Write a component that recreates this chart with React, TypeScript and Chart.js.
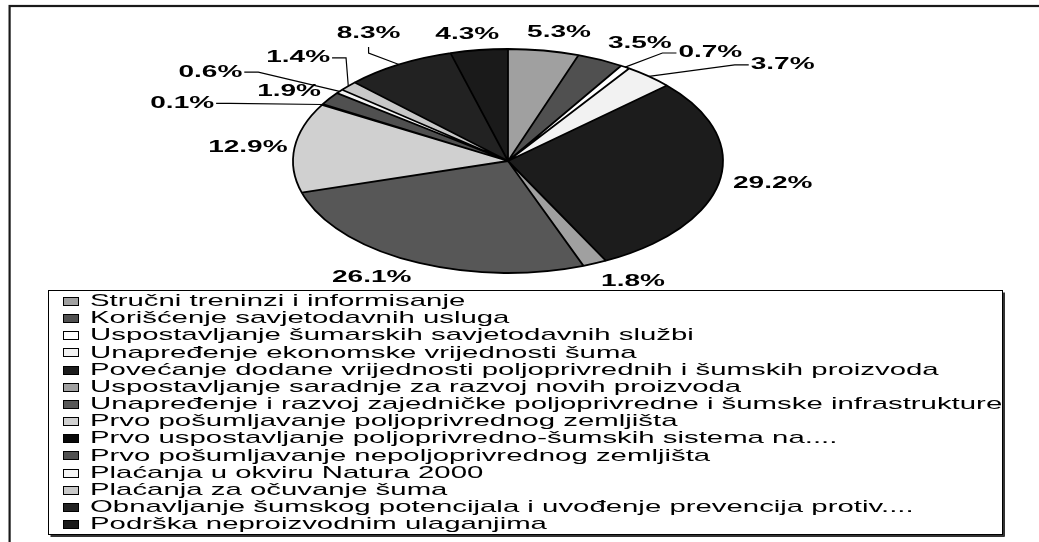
import React, { useEffect, useRef } from "react";
import { Chart, registerables } from "chart.js";

Chart.register(...registerables);

const categories = [
  "Stručni treninzi i informisanje",
  "Korišćenje savjetodavnih usluga",
  "Uspostavljanje šumarskih savjetodavnih službi",
  "Unapređenje ekonomske vrijednosti šuma",
  "Povećanje dodane vrijednosti poljoprivrednih i šumskih proizvoda",
  "Uspostavljanje saradnje za razvoj novih proizvoda",
  "Unapređenje i razvoj zajedničke poljoprivredne i šumske infrastrukture",
  "Prvo pošumljavanje poljoprivrednog zemljišta",
  "Prvo uspostavljanje poljoprivredno-šumskih sistema na....",
  "Prvo pošumljavanje nepoljoprivrednog zemljišta",
  "Plaćanja u okviru Natura 2000",
  "Plaćanja za očuvanje šuma",
  "Obnavljanje šumskog potencijala i uvođenje prevencija protiv....",
  "Podrška neproizvodnim ulaganjima",
];

const shares = [5.3, 3.5, 0.7, 3.7, 29.2, 1.8, 26.1, 12.9, 0.1, 1.9, 0.6, 1.4, 8.3, 4.3];

const sliceColors = [
  "#a0a0a0",
  "#505050",
  "#ffffff",
  "#f2f2f2",
  "#1c1c1c",
  "#a0a0a0",
  "#575757",
  "#d0d0d0",
  "#080808",
  "#505050",
  "#f4f4f4",
  "#c8c8c8",
  "#222222",
  "#1a1a1a",
];

// label layout (offsets from default outside position), leader attachment side
const labelNudges: [number, number][] = [
  [7, 0], [18, 0], [58, 1], [101, 2], [4, -1], [18, 2], [-18, 0],
  [3, 2], [-97, 8], [1, 3], [-90, -8], [-13, -16], [-5, -15], [-5, 2],
];
const leaderSides: (string | null)[] = [
  null, null, "left", "left", null, null, null,
  null, "right", null, "right", "right", "bottom", null,
];

const W = 1039;
const H = 542;
const PIE_CX = 508;
const PIE_CY = 161;
const PIE_RX = 215;
const PIE_RY = 112;
const LABEL_STRETCH = 1.75;
const LEGEND_STRETCH = 1.727;
const LABEL_GAP_X = 50;
const LABEL_GAP_Y = 18;
const LABEL_FONT = "bold 16px 'Liberation Sans', Arial, sans-serif";
const LEGEND_FONT = "17px 'Liberation Sans', Arial, sans-serif";
const LEGEND_BOX = { x: 48.5, y: 290.5, w: 954, h: 244 };
const LEGEND_ROW0 = 301.5;
const LEGEND_PITCH = 17.15;

function drawStretched(ctx: CanvasRenderingContext2D, text: string, x: number, y: number, s: number) {
  ctx.save();
  ctx.translate(x, y);
  ctx.scale(s, 1);
  ctx.fillText(text, 0, 0);
  ctx.restore();
}

const ellipsePie = {
  id: "ellipsePie",
  beforeDatasetsDraw(chart: any) {
    const arc = chart.getDatasetMeta(0).data[0];
    const p = arc.getProps(["x", "y", "outerRadius"], true);
    const ctx = chart.ctx as CanvasRenderingContext2D;
    ctx.save();
    ctx.translate(PIE_CX, PIE_CY);
    ctx.scale(PIE_RX / p.outerRadius, PIE_RY / p.outerRadius);
    ctx.translate(-p.x, -p.y);
  },
  afterDatasetsDraw(chart: any) {
    const ctx = chart.ctx as CanvasRenderingContext2D;
    const arcs = chart.getDatasetMeta(0).data;
    ctx.beginPath();
    arcs.forEach((a: any) => {
      const p = a.getProps(["x", "y", "startAngle", "endAngle", "outerRadius"], true);
      ctx.moveTo(p.x, p.y);
      ctx.arc(p.x, p.y, p.outerRadius, p.startAngle, p.endAngle);
      ctx.closePath();
    });
    ctx.restore();
    ctx.save();
    ctx.lineWidth = 1.8;
    ctx.strokeStyle = "#000";
    ctx.lineJoin = "round";
    ctx.stroke();
    ctx.restore();
  },
  afterDraw(chart: any) {
    const ctx = chart.ctx as CanvasRenderingContext2D;
    const arcs = chart.getDatasetMeta(0).data;
    const values: number[] = chart.data.datasets[0].data;
    const colors: string[] = chart.data.datasets[0].backgroundColor;
    const labels: string[] = chart.data.labels;

    // outer frame
    ctx.save();
    ctx.strokeStyle = "#1a1a1a";
    ctx.lineWidth = 2.2;
    ctx.strokeRect(9.6, 6, W + 20, H + 20);
    ctx.restore();

    // percentage labels
    ctx.save();
    ctx.font = LABEL_FONT;
    ctx.fillStyle = "#000";
    ctx.strokeStyle = "#000";
    ctx.lineWidth = 1.2;
    ctx.textAlign = "center";
    ctx.textBaseline = "middle";
    arcs.forEach((a: any, i: number) => {
      const p = a.getProps(["startAngle", "endAngle"], true);
      const th = (p.startAngle + p.endAngle) / 2;
      const ex = PIE_CX + PIE_RX * Math.cos(th);
      const ey = PIE_CY + PIE_RY * Math.sin(th);
      const lx = PIE_CX + (PIE_RX + LABEL_GAP_X) * Math.cos(th) + labelNudges[i][0];
      const ly = PIE_CY + (PIE_RY + LABEL_GAP_Y) * Math.sin(th) + labelNudges[i][1];
      const text = values[i].toFixed(1) + "%";
      const tw = ctx.measureText(text).width * LABEL_STRETCH;
      const side = leaderSides[i];
      if (side) {
        ctx.beginPath();
        ctx.moveTo(ex, ey);
        if (side === "left") {
          ctx.lineTo(lx - tw / 2 - 16, ly);
          ctx.lineTo(lx - tw / 2 - 2, ly);
        } else if (side === "right") {
          ctx.lineTo(lx + tw / 2 + 16, ly);
          ctx.lineTo(lx + tw / 2 + 2, ly);
        } else {
          ctx.lineTo(lx, ly + 19);
          ctx.lineTo(lx, ly + 13);
        }
        ctx.stroke();
      }
      drawStretched(ctx, text, lx, ly, LABEL_STRETCH);
    });
    ctx.restore();

    // legend
    ctx.save();
    ctx.fillStyle = "#fff";
    ctx.fillRect(LEGEND_BOX.x, LEGEND_BOX.y, LEGEND_BOX.w, LEGEND_BOX.h);
    ctx.strokeStyle = "#000";
    ctx.lineWidth = 1;
    ctx.strokeRect(LEGEND_BOX.x, LEGEND_BOX.y, LEGEND_BOX.w, LEGEND_BOX.h);
    ctx.fillStyle = "#333";
    ctx.fillRect(LEGEND_BOX.x + LEGEND_BOX.w + 0.5, LEGEND_BOX.y + 2, 2, LEGEND_BOX.h);
    ctx.fillRect(LEGEND_BOX.x + 2, LEGEND_BOX.y + LEGEND_BOX.h + 0.5, LEGEND_BOX.w, 2);
    ctx.font = LEGEND_FONT;
    ctx.textAlign = "left";
    ctx.textBaseline = "middle";
    labels.forEach((lab, i) => {
      const y = LEGEND_ROW0 + i * LEGEND_PITCH;
      ctx.fillStyle = colors[i];
      ctx.fillRect(63.5, Math.round(y - 4.5) + 0.5, 15, 8);
      ctx.strokeStyle = "#000";
      ctx.lineWidth = 1;
      ctx.strokeRect(63.5, Math.round(y - 4.5) + 0.5, 15, 8);
      ctx.fillStyle = "#000";
      drawStretched(ctx, lab, 90, y, LEGEND_STRETCH);
    });
    ctx.restore();
  },
};

export default function App() {
  const canvasRef = useRef<HTMLCanvasElement | null>(null);

  useEffect(() => {
    const canvas = canvasRef.current;
    if (!canvas) return;
    const chart = new Chart(canvas, {
      type: "pie",
      data: {
        labels: categories,
        datasets: [
          {
            data: shares,
            backgroundColor: sliceColors,
            borderWidth: 0,
            hoverOffset: 0,
          },
        ],
      },
      options: {
        responsive: false,
        animation: false,
        events: [],
        layout: {
          padding: {
            left: PIE_CX - PIE_RX,
            right: W - PIE_CX - PIE_RX,
            top: 40,
            bottom: H - 40 - 2 * PIE_RX,
          },
        },
        plugins: {
          legend: { display: false },
          tooltip: { enabled: false },
        },
      },
      plugins: [ellipsePie],
    });
    return () => chart.destroy();
  }, []);

  return (
    <div style={{ position: "fixed", left: 0, top: 0, width: W, height: H, background: "#fff" }}>
      <canvas ref={canvasRef} width={W} height={H} style={{ display: "block" }} />
    </div>
  );
}
